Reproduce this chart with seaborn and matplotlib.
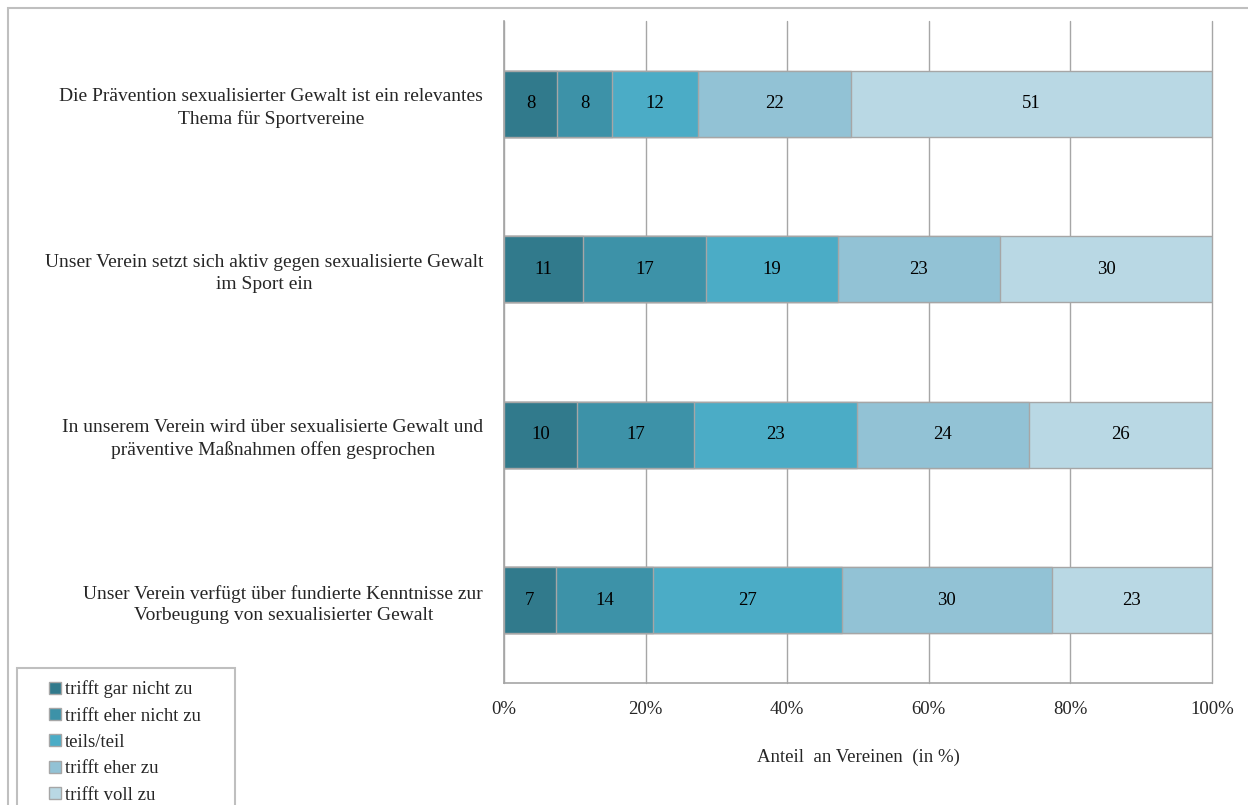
#import libraries
import seaborn as sns
import matplotlib.pyplot as plt
import numpy as np
import pandas as pd
from matplotlib.patches import Patch, Rectangle

#set global styles
sns.set_style("white")
plt.rcParams['font.family'] = ['Liberation Serif', 'DejaVu Serif']

#data: share of clubs per answer (in %)
questions = ["Die Prävention sexualisierter Gewalt ist ein relevantes\nThema für Sportvereine",
             "Unser Verein setzt sich aktiv gegen sexualisierte Gewalt\nim Sport ein",
             "In unserem Verein wird über sexualisierte Gewalt und\npräventive Maßnahmen offen gesprochen",
             "Unser Verein verfügt über fundierte Kenntnisse zur\nVorbeugung von sexualisierter Gewalt"]
answers = ["trifft gar nicht zu", "trifft eher nicht zu", "teils/teil",
           "trifft eher zu", "trifft voll zu"]
gar_nicht = [7.5, 11.2, 10.3, 7.3]
eher_nicht = [7.8, 17.3, 16.6, 13.8]
teils = [12.1, 18.6, 22.9, 26.6]
eher_zu = [21.6, 22.9, 24.4, 29.7]
voll_zu = [51.0, 29.9, 25.8, 22.6]
xticks = [0, 20, 40, 60, 80, 100]
colors = ["#317A8C", "#3D92A8", "#4BACC6", "#92C2D5", "#B9D8E4"]

df = pd.DataFrame({"question": questions,
                   answers[0]: gar_nicht,
                   answers[1]: eher_nicht,
                   answers[2]: teils,
                   answers[3]: eher_zu,
                   answers[4]: voll_zu})
vals = df[answers].to_numpy()
vals = vals / vals.sum(axis=1, keepdims=True) * 100
cum = vals.cumsum(axis=1)

fig = plt.figure(figsize=(12.48, 8.05), dpi=100)
ax = fig.add_axes([504/1248, 1-683/805, 708/1248, 662/805])

#stacked bars: draw cumulative totals from right to left
for j in range(len(answers)-1, -1, -1):
    sns.barplot(x=cum[:, j], y=df["question"], color=colors[j], orient="h",
                width=0.4, saturation=1, edgecolor="#a6a6a6", linewidth=1,
                ax=ax, zorder=3)

#value labels
for i in range(len(questions)):
    for j in range(len(answers)):
        ax.text(cum[i, j] - vals[i, j]/2, i, f"{int(df[answers[j]][i] + 0.5)}",
                ha="center", va="center", fontsize=13.5, color="black", zorder=4)

ax.set_xlim(0, 100)
ax.set_ylim(3.5, -0.5)
ax.set_xticks(xticks)
ax.set_xticklabels([f"{t}%" for t in xticks], fontsize=13.5)
ax.set_yticks(range(len(questions)))
ax.set_yticklabels(questions, fontsize=14, multialignment="center", linespacing=1.35)
ax.set_yticks([-0.5, 0.5, 1.5, 2.5, 3.5], minor=True)
ax.tick_params(axis="y", which="major", length=0, pad=15)
ax.tick_params(axis="y", which="minor", length=6, color="#a6a6a6", direction="out")
ax.tick_params(axis="x", length=6, color="#a6a6a6", direction="out", pad=7)
ax.set_ylabel("")
ax.set_xlabel("Anteil  an Vereinen  (in %)", fontsize=13.5, labelpad=22)
ax.grid(axis="x", color="#a6a6a6", linewidth=1, zorder=0)
ax.grid(axis="y", visible=False)
for line in ax.get_xgridlines():
    line.set_clip_on(False)
for s in ["top", "right"]:
    ax.spines[s].set_visible(False)
for s in ["left", "bottom"]:
    ax.spines[s].set_color("#a6a6a6")
    ax.spines[s].set_linewidth(1.2)

#outer frame and legend box
fig.patches.append(Rectangle((8/1248, -0.1), 1.1, 1-8/805+0.1, transform=fig.transFigure,
                             fill=False, edgecolor="#bfbfbf", linewidth=1.5))
fig.patches.append(Rectangle((17/1248, -0.1), 218/1248, 0.1+1-668/805, transform=fig.transFigure,
                             fill=False, edgecolor="#bfbfbf", linewidth=1.5))
handles = [Patch(facecolor=c, edgecolor="#a6a6a6") for c in colors]
fig.legend(handles, answers, loc="upper left", bbox_to_anchor=(40/1248, 1-671/805),
           frameon=False, fontsize=13.5, handlelength=0.6, handleheight=0.6,
           handletextpad=0.25, labelspacing=0.5, borderpad=0)

plt.savefig("out.png", dpi=100)
